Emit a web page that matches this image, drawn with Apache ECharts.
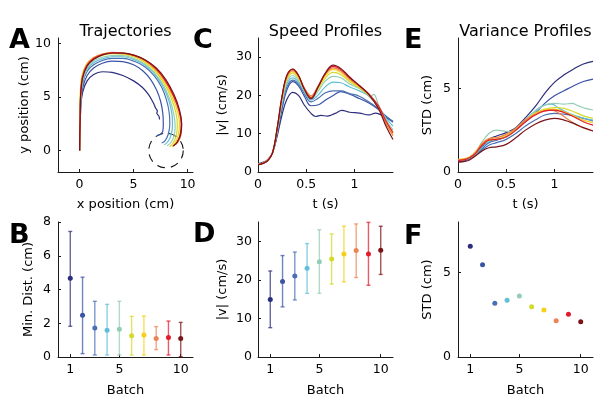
<!DOCTYPE html>
<html><head><meta charset="utf-8">
<script src="https://cdn.jsdelivr.net/npm/echarts@6/dist/echarts.min.js"></script>
<style>html,body{margin:0;padding:0;background:#fff}#c{width:601px;height:403px}</style>
</head><body><div id="c"></div>
<script>
// ---------------- data ----------------
const batches = [1, 2, 3, 4, 5, 6, 7, 8, 9, 10];
const batchColors = ['#2c2d7c', '#3a53a4', '#4a6fb3', '#5fbfd8', '#93cdb3', '#d2da2c', '#f5cf18', '#ec8352', '#e31c2c', '#7a1418'];

// Panel A: trajectories (x cm, y cm) per batch
const traj1 = [[0,0],[0.03,1.5],[0.07,3],[0.12,4.3],[0.3,5.5],[0.7,6.5],[1.3,7.1],[2.1,7.35],[3.0,7.3],[4.0,7.0],[5.0,6.5],[5.8,5.9],[6.4,5.2],[6.8,4.5],[7.05,3.95],[7.2,3.7],[7.15,3.5],[7.35,3.2],[7.4,2.9]];
const traj2 = [[0,0],[0.03,1.5],[0.07,3],[0.12,4.6],[0.3,5.9],[0.7,7.0],[1.3,7.7],[2.1,8.15],[3.0,8.35],[4.0,8.3],[5.0,8.0],[5.9,7.4],[6.6,6.6],[7.15,5.6],[7.5,4.6],[7.7,3.5],[7.75,2.5],[7.7,1.8],[7.45,1.5],[7.15,1.4]];
const traj3 = [[0,0],[0.03,1.5],[0.07,3],[0.12,4.8],[0.3,6.3],[0.7,7.4],[1.3,8.0],[2.1,8.4],[3.0,8.6],[4.0,8.6],[5.0,8.35],[6.0,7.85],[6.9,7.0],[7.6,5.9],[8.05,4.7],[8.3,3.5],[8.35,2.4],[8.2,1.5],[7.9,0.9],[7.6,0.7]];
const traj4 = [[0,0],[0.03,1.5],[0.07,3],[0.12,5.0],[0.3,6.5],[0.7,7.6],[1.3,8.2],[2.1,8.55],[3.0,8.75],[4.0,8.75],[5.0,8.5],[6.0,8.0],[6.9,7.2],[7.7,6.0],[8.25,4.7],[8.55,3.4],[8.6,2.3],[8.45,1.4],[8.15,0.8],[7.85,0.55]];
const traj5 = [[0,0],[0.03,1.5],[0.07,3],[0.12,5.1],[0.3,6.6],[0.7,7.7],[1.3,8.35],[2.1,8.7],[3.0,8.85],[4.0,8.85],[5.0,8.6],[6.0,8.1],[6.9,7.3],[7.7,6.2],[8.3,4.9],[8.7,3.5],[8.85,2.3],[8.75,1.4],[8.45,0.75],[8.1,0.45]];
const traj6 = [[0,0],[0.02,1.5],[0.05,3],[0.1,5.3],[0.25,6.8],[0.65,7.9],[1.3,8.55],[2.1,8.9],[3.0,9.05],[4.0,9.0],[5.0,8.75],[6.0,8.25],[7.0,7.4],[7.8,6.3],[8.45,5.0],[8.9,3.6],[9.05,2.4],[8.95,1.4],[8.65,0.7],[8.3,0.35]];
const traj7 = [[0,0],[0.0,1.5],[0.02,3],[0.06,5.4],[0.2,6.9],[0.6,8.0],[1.25,8.65],[2.1,9.0],[3.0,9.12],[4.0,9.08],[5.0,8.85],[6.0,8.35],[7.0,7.5],[7.85,6.4],[8.55,5.1],[9.05,3.7],[9.25,2.5],[9.15,1.5],[8.9,0.8],[8.55,0.35]];
const traj8 = [[0,0],[0.02,1.5],[0.05,3],[0.1,5.4],[0.25,6.9],[0.65,8.0],[1.3,8.65],[2.1,9.0],[3.0,9.15],[4.0,9.12],[5.0,8.9],[6.0,8.45],[7.0,7.65],[7.9,6.55],[8.65,5.2],[9.2,3.8],[9.45,2.5],[9.4,1.5],[9.15,0.85],[8.9,0.55]];
const traj9 = [[0,0],[0.02,1.5],[0.05,3],[0.1,5.3],[0.28,6.85],[0.7,7.95],[1.35,8.6],[2.2,8.98],[3.1,9.12],[4.1,9.08],[5.1,8.85],[6.1,8.4],[7.1,7.6],[7.95,6.5],[8.7,5.1],[9.2,3.7],[9.4,2.45],[9.3,1.45],[9.0,0.75],[8.65,0.4]];
const traj10 = [[0,0],[0.02,1.5],[0.05,3],[0.1,5.2],[0.28,6.8],[0.7,7.9],[1.35,8.55],[2.2,8.95],[3.1,9.1],[4.1,9.08],[5.1,8.88],[6.1,8.45],[7.1,7.7],[8.0,6.6],[8.75,5.2],[9.25,3.8],[9.45,2.5],[9.35,1.5],[9.05,0.8],[8.7,0.45]];
const trajectories = [traj1, traj2, traj3, traj4, traj5, traj6, traj7, traj8, traj9, traj10];
const targetCenter = [8, 0];
const targetRadius = 1.6;

// Panel C: speed profiles (t s, |v| cm/s)
const speed1 = [[0,2.2],[0.05,2.5],[0.1,3.2],[0.15,5],[0.2,9.5],[0.25,15],[0.3,19],[0.36,20.8],[0.42,20],[0.48,17.5],[0.55,15.3],[0.6,14.5],[0.65,14.8],[0.72,14.6],[0.8,15.3],[0.87,16.1],[0.95,15.6],[1.05,15.4],[1.15,14.9],[1.22,15.4],[1.3,14.6],[1.4,13.2]];
const speed2 = [[0,2.1],[0.05,2.4],[0.1,3.1],[0.15,5],[0.2,10],[0.25,16.5],[0.3,21.5],[0.36,23.6],[0.42,22.5],[0.48,19.8],[0.55,17.3],[0.62,17.5],[0.7,18.8],[0.78,20],[0.86,21],[0.95,20.3],[1.05,19.2],[1.15,18],[1.25,16.3],[1.33,14.5],[1.4,13]];
const speed3 = [[0,2.0],[0.05,2.3],[0.1,3],[0.15,5],[0.2,10.5],[0.25,17.5],[0.3,22.3],[0.36,24.0],[0.42,23],[0.48,20.5],[0.55,18.3],[0.62,19.2],[0.7,20.7],[0.78,21.2],[0.86,21.2],[0.95,20.5],[1.05,19.8],[1.15,18.3],[1.25,16.5],[1.33,14.5],[1.4,13.2]];
const speed4 = [[0,2.0],[0.05,2.3],[0.1,3],[0.15,5],[0.2,10.8],[0.25,18],[0.3,23],[0.36,24.6],[0.42,23.5],[0.48,21],[0.55,18.8],[0.62,20],[0.7,22.3],[0.78,23.5],[0.86,23.3],[0.95,22.2],[1.05,21.2],[1.15,19.8],[1.25,17],[1.33,14],[1.4,12]];
const speed5 = [[0,2.0],[0.05,2.3],[0.1,3],[0.15,5],[0.2,11],[0.25,18.5],[0.3,23.6],[0.36,25.2],[0.42,24],[0.48,21.3],[0.55,19.2],[0.62,21],[0.7,23.8],[0.78,25],[0.86,24.6],[0.95,23],[1.05,21.8],[1.12,20.5],[1.17,19.8],[1.2,20.3],[1.25,17.5],[1.33,13.5],[1.4,11]];
const speed6 = [[0,2.0],[0.05,2.3],[0.1,3],[0.15,5],[0.2,11.2],[0.25,19],[0.3,24.2],[0.36,25.8],[0.42,24.4],[0.48,21.6],[0.55,19.5],[0.62,21.6],[0.7,24.6],[0.78,26],[0.86,25.4],[0.95,23.6],[1.05,22],[1.15,20],[1.25,17],[1.33,13],[1.4,10.3]];
const speed7 = [[0,2.0],[0.05,2.3],[0.1,3],[0.15,5],[0.2,11.4],[0.25,19.4],[0.3,24.6],[0.36,26.2],[0.42,24.8],[0.48,21.8],[0.55,19.8],[0.62,22],[0.7,25.2],[0.78,26.8],[0.86,26],[0.95,24],[1.05,22.2],[1.15,20.1],[1.25,16.8],[1.33,12.8],[1.4,9.8]];
const speed8 = [[0,2.0],[0.05,2.3],[0.1,3],[0.15,5],[0.2,11.5],[0.25,19.6],[0.3,24.9],[0.36,26.5],[0.42,25.1],[0.48,22],[0.55,19.9],[0.62,22.3],[0.7,25.6],[0.78,27.2],[0.86,26.4],[0.95,24.3],[1.05,22.4],[1.15,20.2],[1.25,16.7],[1.33,12.5],[1.4,9.5]];
const speed9 = [[0,2.0],[0.05,2.3],[0.1,3],[0.15,5],[0.2,11.6],[0.25,19.8],[0.3,25.2],[0.36,26.8],[0.42,25.2],[0.48,21.8],[0.55,19.4],[0.62,22.2],[0.7,25.8],[0.78,27.6],[0.86,26.8],[0.95,24.6],[1.05,22.6],[1.15,20.4],[1.25,17.2],[1.33,13.2],[1.4,10.3]];
const speed10 = [[0,1.9],[0.05,2.2],[0.1,2.9],[0.15,4.9],[0.2,11.6],[0.25,19.9],[0.3,25.3],[0.36,26.9],[0.42,25.2],[0.48,21.6],[0.55,19.1],[0.62,22],[0.7,25.9],[0.78,27.9],[0.86,27],[0.95,24.8],[1.05,22.6],[1.15,20.2],[1.25,16.5],[1.33,11.8],[1.4,8.5]];
const speeds = [speed1, speed2, speed3, speed4, speed5, speed6, speed7, speed8, speed9, speed10];

// Panel E: variance profiles (t s, STD cm)
const std1 = [[0,0.6],[0.06,0.65],[0.12,0.8],[0.18,1.0],[0.25,1.5],[0.32,1.95],[0.4,2.15],[0.5,2.35],[0.6,2.65],[0.7,3.25],[0.8,3.9],[0.9,4.7],[1.0,5.35],[1.1,5.8],[1.2,6.15],[1.3,6.45],[1.4,6.6]];
const std2 = [[0,0.65],[0.06,0.7],[0.12,0.8],[0.18,1.0],[0.25,1.4],[0.32,1.75],[0.4,1.9],[0.5,2.1],[0.6,2.5],[0.7,3.0],[0.8,3.5],[0.9,4.1],[1.0,4.55],[1.1,4.85],[1.2,5.15],[1.3,5.4],[1.4,5.55]];
const std3 = [[0,0.65],[0.06,0.7],[0.12,0.8],[0.18,1.0],[0.25,1.3],[0.32,1.6],[0.4,1.75],[0.5,1.95],[0.6,2.3],[0.7,2.75],[0.8,3.1],[0.9,3.4],[1.0,3.5],[1.1,3.45],[1.2,3.35],[1.3,3.2],[1.4,3.05]];
const std4 = [[0,0.7],[0.06,0.72],[0.12,0.82],[0.18,1.05],[0.25,1.45],[0.32,1.8],[0.4,1.95],[0.5,2.1],[0.6,2.5],[0.7,3.1],[0.8,3.65],[0.9,4.0],[0.97,4.05],[1.05,3.8],[1.15,3.5],[1.25,3.3],[1.4,3.1]];
const std5 = [[0,0.7],[0.06,0.75],[0.12,0.9],[0.18,1.2],[0.25,1.8],[0.32,2.3],[0.4,2.5],[0.47,2.45],[0.55,2.4],[0.62,2.6],[0.7,3.05],[0.8,3.6],[0.9,4.0],[1.0,4.1],[1.1,4.05],[1.18,4.1],[1.25,3.95],[1.32,3.8],[1.4,3.7]];
const std6 = [[0,0.7],[0.06,0.75],[0.12,0.85],[0.18,1.1],[0.25,1.6],[0.32,1.9],[0.4,1.95],[0.5,2.1],[0.6,2.5],[0.7,3.05],[0.8,3.5],[0.9,3.75],[1.0,3.85],[1.1,3.8],[1.2,3.6],[1.3,3.35],[1.4,3.2]];
const std7 = [[0,0.75],[0.06,0.8],[0.12,0.9],[0.18,1.2],[0.25,1.7],[0.32,2.0],[0.4,2.05],[0.5,2.2],[0.6,2.6],[0.7,3.1],[0.8,3.5],[0.9,3.7],[1.0,3.75],[1.1,3.6],[1.2,3.35],[1.3,3.1],[1.4,2.95]];
const std8 = [[0,0.7],[0.06,0.75],[0.12,0.88],[0.18,1.15],[0.25,1.7],[0.32,2.0],[0.4,2.05],[0.5,2.25],[0.6,2.6],[0.7,3.1],[0.8,3.45],[0.9,3.65],[0.97,3.7],[1.05,3.5],[1.15,3.1],[1.25,2.75],[1.4,2.45]];
const std9 = [[0,0.7],[0.06,0.72],[0.12,0.85],[0.18,1.1],[0.25,1.6],[0.32,1.9],[0.4,1.95],[0.5,2.1],[0.6,2.5],[0.7,3.0],[0.8,3.4],[0.9,3.65],[1.0,3.7],[1.1,3.55],[1.2,3.3],[1.3,3.0],[1.4,2.8]];
const std10 = [[0,0.6],[0.06,0.62],[0.12,0.72],[0.18,0.95],[0.25,1.25],[0.32,1.45],[0.4,1.5],[0.5,1.65],[0.6,2.05],[0.7,2.5],[0.8,2.85],[0.9,3.1],[1.0,3.2],[1.1,3.1],[1.2,2.9],[1.3,2.65],[1.4,2.45]];
const stds = [std1, std2, std3, std4, std5, std6, std7, std8, std9, std10];

// Panel B: minimum distance (cm), mean with low/high of error bar
const minDistMean = [4.66, 2.47, 1.72, 1.58, 1.64, 1.26, 1.30, 1.10, 1.15, 1.09];
const minDistLow  = [1.82, 0.20, 0.12, 0.12, 0.12, 0.12, 0.12, 0.44, 0.12, 0.02];
const minDistHigh = [7.44, 4.73, 3.30, 3.12, 3.30, 2.41, 2.43, 1.80, 2.13, 2.05];

// Panel D: speed (cm/s), mean with low/high
const speedMean = [14.9, 19.6, 21.0, 23.0, 24.7, 25.4, 26.7, 27.6, 26.7, 27.7];
const speedLow  = [7.6, 13.0, 14.8, 16.5, 16.5, 18.9, 19.5, 20.6, 18.6, 21.4];
const speedHigh = [22.3, 26.3, 27.2, 29.4, 33.0, 31.9, 33.9, 34.5, 34.9, 33.9];

// Panel F: end-point STD (cm)
const endStd = [6.57, 5.47, 3.18, 3.37, 3.61, 2.98, 2.78, 2.15, 2.53, 2.09];

// Tick labels
const ticksTrajX = [0, 5, 10];
const ticksTrajY = [0, 5, 10];
const ticksTime = [0, 0.5, 1];
const ticksSpeed = [0, 10, 20, 30];
const ticksStd = [0, 5];
const ticksBatch = [1, 5, 10];
const ticksMinDist = [0, 2, 4, 6, 8];

// ---------------- chart ----------------
const FONT = '"DejaVu Sans", "Liberation Sans", sans-serif';
const AX = '#1a1a1a';
const chart = echarts.init(document.getElementById('c'), null, {renderer: 'canvas'});

const grids = [
  {left: 58,  top: 38,  width: 135, height: 134},  // A
  {left: 258, top: 38,  width: 135, height: 134},  // C
  {left: 458, top: 38,  width: 135, height: 134},  // E
  {left: 58,  top: 222, width: 135, height: 135},  // B
  {left: 258, top: 222, width: 135, height: 135},  // D
  {left: 458, top: 222, width: 135, height: 135}   // F
];

function axis(gi, min, max, ticks, name, gap, isY, margin) {
  return {
    type: 'value', gridIndex: gi, min: min, max: max,
    name: name, nameLocation: 'middle', nameGap: gap,
    nameTextStyle: {fontFamily: FONT, fontSize: 13, color: '#000'},
    axisLine: {show: true, onZero: false, lineStyle: {color: AX, width: 1}},
    axisTick: {show: true, inside: true, length: 3, customValues: ticks, lineStyle: {color: AX}},
    axisLabel: {show: true, customValues: ticks, margin: margin, fontFamily: FONT, fontSize: 12.5, color: '#000'},
    splitLine: {show: false}
  };
}

const xAxes = [
  axis(0, -2, 10.5, ticksTrajX, 'x position (cm)', 26, false, 6),
  axis(1, 0, 1.4, ticksTime, 't (s)', 26, false, 6),
  axis(2, 0, 1.4, ticksTime, 't (s)', 26, false, 6),
  axis(3, 0, 11, ticksBatch, 'Batch', 27, false, 6),
  axis(4, 0, 11, ticksBatch, 'Batch', 27, false, 6),
  axis(5, 0, 11, ticksBatch, 'Batch', 27, false, 6)
];
const yAxes = [
  axis(0, -2, 10.5, ticksTrajY, 'y position (cm)', 25, true, 7),
  axis(1, 0, 35, ticksSpeed, '|v| (cm/s)', 29, true, 6),
  axis(2, 0, 8, ticksStd, 'STD (cm)', 24, true, 7),
  axis(3, 0, 8, ticksMinDist, 'Min. Dist. (cm)', 23, true, 7),
  axis(4, 0, 35, ticksSpeed, '|v| (cm/s)', 29, true, 6),
  axis(5, 0, 8, ticksStd, 'STD (cm)', 24, true, 7)
];

const series = [];
// target circle (panel A)
series.push({
  type: 'custom', xAxisIndex: 0, yAxisIndex: 0, silent: true,
  data: [[targetCenter[0], targetCenter[1], targetRadius]],
  renderItem: function (params, api) {
    const c = api.coord([api.value(0), api.value(1)]);
    const r = api.size([api.value(2), 0])[0];
    return {type: 'circle', shape: {cx: c[0], cy: c[1], r: r},
      style: {fill: 'none', stroke: '#111', lineWidth: 1.1, lineDash: [8, 6]}};
  }
});
function lineSeries(data, i, gi, smooth) {
  return {type: 'line', xAxisIndex: gi, yAxisIndex: gi, data: data, showSymbol: false,
    smooth: smooth, silent: true, lineStyle: {color: batchColors[i], width: 1.2}, z: 2 + i};
}
trajectories.forEach((d, i) => series.push(lineSeries(d, i, 0, 0.35)));
speeds.forEach((d, i) => series.push(lineSeries(d, i, 1, 0.4)));
stds.forEach((d, i) => series.push(lineSeries(d, i, 2, 0.4)));

function errorSeries(gi, lows, highs) {
  return {
    type: 'custom', xAxisIndex: gi, yAxisIndex: gi, silent: true,
    encode: {x: 0, y: [1, 2]},
    data: batches.map((b, i) => [b, lows[i], highs[i]]),
    renderItem: function (params, api) {
      const lo = api.coord([api.value(0), api.value(1)]);
      const hi = api.coord([api.value(0), api.value(2)]);
      const col = batchColors[params.dataIndex];
      const st = {stroke: col, lineWidth: 1.4, opacity: 0.72};
      const cap = 2;
      return {type: 'group', children: [
        {type: 'line', shape: {x1: lo[0], y1: lo[1], x2: hi[0], y2: hi[1]}, style: st},
        {type: 'line', shape: {x1: lo[0] - cap, y1: lo[1], x2: lo[0] + cap, y2: lo[1]}, style: st},
        {type: 'line', shape: {x1: hi[0] - cap, y1: hi[1], x2: hi[0] + cap, y2: hi[1]}, style: st}
      ]};
    }
  };
}
function dotSeries(gi, vals) {
  return {type: 'scatter', xAxisIndex: gi, yAxisIndex: gi, silent: true, symbolSize: 5, z: 5,
    data: batches.map((b, i) => [b, vals[i]]),
    itemStyle: {color: p => batchColors[p.dataIndex], opacity: 1}};
}
series.push(errorSeries(3, minDistLow, minDistHigh));
series.push(dotSeries(3, minDistMean));
series.push(errorSeries(4, speedLow, speedHigh));
series.push(dotSeries(4, speedMean));
series.push(dotSeries(5, endStd));

function txt(x, y, s, size, bold, align) {
  return {type: 'text', x: x, y: y, silent: true,
    style: {text: s, fill: '#000', font: (bold ? 'bold ' : '') + size + 'px ' + FONT,
      textAlign: align, textVerticalAlign: 'alphabetic'}};
}
const graphics = [
  txt(9, 27, 'A', 27, true, 'left'),
  txt(193, 27, 'C', 27, true, 'left'),
  txt(404, 27, 'E', 27, true, 'left'),
  txt(9, 222, 'B', 27, true, 'left'),
  txt(193, 221, 'D', 27, true, 'left'),
  txt(404, 223, 'F', 27, true, 'left'),
  txt(125.5, 24, 'Trajectories', 16, false, 'center'),
  txt(325.5, 24, 'Speed Profiles', 16, false, 'center'),
  txt(525.5, 24, 'Variance Profiles', 16, false, 'center')
];

chart.setOption({
  animation: false,
  backgroundColor: '#fff',
  grid: grids,
  xAxis: xAxes,
  yAxis: yAxes,
  series: series,
  graphic: graphics
});
</script>
</body></html>
